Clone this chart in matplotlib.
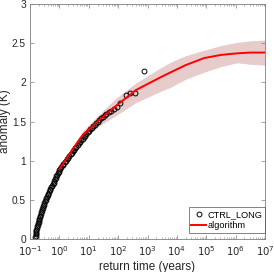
import numpy as np
import matplotlib.pyplot as plt
from matplotlib.ticker import FixedLocator, NullFormatter

plt.rcParams['font.family'] = ['Liberation Sans', 'DejaVu Sans']

ctrl_logt = [-0.82, -0.81, -0.80, -0.80, -0.79, -0.78, -0.77, -0.76, -0.74, -0.73,
             -0.71, -0.70, -0.68, -0.67, -0.65, -0.63, -0.62, -0.60, -0.59, -0.57,
             -0.55, -0.53, -0.51, -0.49, -0.47, -0.45, -0.43, -0.40, -0.38, -0.36,
             -0.33, -0.31, -0.28, -0.26, -0.23, -0.20, -0.18, -0.15, -0.13, -0.10,
             -0.07, -0.05, -0.02, 0.00, 0.03, 0.07, 0.11, 0.14, 0.18, 0.22,
             0.26, 0.30, 0.34, 0.38, 0.42, 0.46, 0.50, 0.54, 0.58, 0.62,
             0.66, 0.70, 0.74, 0.79, 0.83, 0.87, 0.92, 0.96, 1.01, 1.05,
             1.10, 1.15, 1.20, 1.25, 1.30, 1.36, 1.42, 1.48, 1.54, 1.60,
             1.68, 1.76, 1.85, 1.97, 2.06, 2.27, 2.40, 2.57, 2.88]
ctrl_anom = [0.02, 0.04, 0.06, 0.08, 0.10, 0.12, 0.14, 0.16, 0.18, 0.20,
             0.22, 0.24, 0.26, 0.28, 0.30, 0.32, 0.34, 0.36, 0.38, 0.40,
             0.42, 0.44, 0.46, 0.48, 0.50, 0.52, 0.54, 0.56, 0.58, 0.60,
             0.62, 0.64, 0.66, 0.68, 0.70, 0.72, 0.74, 0.76, 0.78, 0.80,
             0.82, 0.84, 0.86, 0.88, 0.90, 0.92, 0.94, 0.96, 0.98, 1.00,
             1.02, 1.04, 1.06, 1.08, 1.10, 1.12, 1.14, 1.16, 1.18, 1.20,
             1.22, 1.24, 1.26, 1.28, 1.30, 1.32, 1.34, 1.36, 1.38, 1.40,
             1.42, 1.44, 1.46, 1.48, 1.50, 1.52, 1.54, 1.56, 1.58, 1.60,
             1.62, 1.64, 1.66, 1.69, 1.74, 1.84, 1.86, 1.87, 2.15]

# algorithm estimate and its spread
alg_logt = [0.0, 0.46, 0.8, 1.3, 1.9, 2.6, 3.42, 3.8, 4.3, 4.93, 5.5, 6.05, 6.5, 7.0]
alg_mean = [0.89, 1.15, 1.33, 1.50, 1.69, 1.90, 2.06, 2.13, 2.22, 2.31, 2.35, 2.37, 2.38, 2.38]
alg_low = [0.86, 1.11, 1.28, 1.43, 1.57, 1.74, 1.88, 1.94, 2.04, 2.13, 2.20, 2.25, 2.23, 2.22]
alg_high = [0.92, 1.19, 1.38, 1.57, 1.79, 1.99, 2.18, 2.26, 2.34, 2.41, 2.47, 2.51, 2.53, 2.54]

x_exps = [-1, 0, 1, 2, 3, 4, 5, 6, 7]
y_ticks = [0, 0.5, 1, 1.5, 2, 2.5, 3]
y_labels = ['0', '0.5', '1', '1.5', '2', '2.5', '3']

t_ctrl = 10.0 ** np.array(ctrl_logt)
t_alg = 10.0 ** np.array(alg_logt)

fig = plt.figure(figsize=(2.74, 2.72), dpi=100)
ax = fig.add_axes([30/274, 33/272, 235/274, 235/272])

ax.fill_between(t_alg, alg_low, alg_high, color=(0.91, 0.80, 0.80), lw=0, zorder=1)
ax.plot(t_ctrl, ctrl_anom, 'o', mfc='none', mec='k', ms=3.5, mew=0.7,
        label='CTRL_LONG', zorder=2)
ax.plot(t_alg, alg_mean, '-', color='r', lw=1.4, label='algorithm', zorder=3)

ax.set_xscale('log')
ax.set_xlim(1e-1, 1e7)
ax.set_ylim(0, 3)
ax.set_yticks(y_ticks)
ax.set_yticklabels(y_labels)
ax.set_xticks([10.0 ** e for e in x_exps])
ax.set_xticklabels(['$10^{%d}$' % e for e in x_exps])
minors = [m * 10.0 ** e for e in x_exps[:-1] for m in range(2, 10)]
ax.xaxis.set_minor_locator(FixedLocator(minors))
ax.xaxis.set_minor_formatter(NullFormatter())

gray = (0.15, 0.15, 0.15)
for s in ax.spines.values():
    s.set_color((0.5, 0.5, 0.5))
    s.set_linewidth(0.6)
ax.tick_params(which='both', direction='in', top=True, right=True,
               colors=(0.5, 0.5, 0.5), labelcolor=gray, labelsize=7.3)
ax.tick_params(which='major', length=3, width=0.5, pad=3)
ax.tick_params(axis='x', which='major', pad=4)
ax.tick_params(which='minor', length=1.5, width=0.4)

ax.set_xlabel('return time (years)', fontsize=8.5, color=gray, labelpad=2)
ax.set_ylabel('anomaly (K)', fontsize=8.5, color=gray)
ax.yaxis.set_label_coords(-0.082, 0.5)

leg = ax.legend(loc='lower right', bbox_to_anchor=(1.0, 6/235), fontsize=6.6,
                frameon=True, fancybox=False, borderaxespad=0,
                handlelength=1.6, handletextpad=0.15,
                borderpad=0.3, labelspacing=0.25)
leg.get_frame().set_edgecolor(gray)
leg.get_frame().set_linewidth(0.5)

plt.savefig('out.png', dpi=100)
